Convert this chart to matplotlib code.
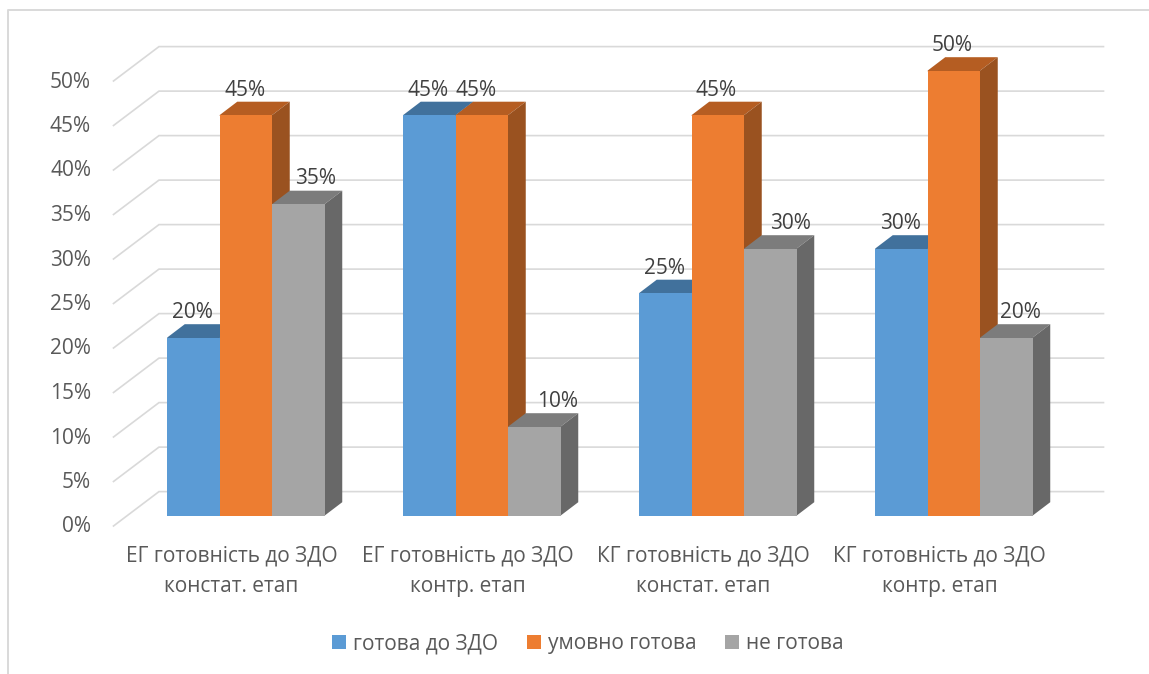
import matplotlib
matplotlib.use("Agg")
import matplotlib.pyplot as plt
from matplotlib.patches import Polygon

plt.rcParams['font.family'] = ['Open Sans', 'DejaVu Sans']

categories = ["ЕГ готовність до ЗДО\nконстат. етап", "ЕГ готовність до ЗДО\nконтр. етап",
              "КГ готовність до ЗДО\nконстат. етап", "КГ готовність до ЗДО\nконтр. етап"]
series_names = ["готова до ЗДО", "умовно готова", "не готова"]
ready = [20, 45, 25, 30]
conditional = [45, 45, 45, 50]
not_ready = [35, 10, 30, 20]
y_ticks = [0, 5, 10, 15, 20, 25, 30, 35, 40, 45, 50]

front_colors = ['#5B9BD5', '#ED7D31', '#A5A5A5']
top_colors = ['#41719C', '#B55D22', '#7C7C7C']
side_colors = ['#3A6A94', '#9A5220', '#686868']
GRID = '#D9D9D9'
W, H = 1149, 674
PX_X, PX_Y = 236.0, 8.9     # pixels per category / per percent
X0, Y0 = 246.0, 515.5       # pixel of first group centre and of 0 %
FS = 15

fig = plt.figure(figsize=(W / 100, H / 100), dpi=100, facecolor='white')
ax = fig.add_axes([0, 0, 1, 1])
ax.set_xlim(-X0 / PX_X, (W - X0) / PX_X)
ax.set_ylim((Y0 - H) / PX_Y, Y0 / PX_Y)
ax.axis('off')

dx = lambda px: px / PX_X
dy = lambda px: px / PX_Y

# outer frame
ax.plot([7.5 / W, 7.5 / W, 1], [0, 1 - 9.5 / H, 1 - 9.5 / H], transform=ax.transAxes,
        color='#D9D9D9', lw=1.4, solid_capstyle='butt', zorder=1)

# wall gridlines with the floor/side diagonal
xl_back, xr_back = dx(159 - X0), dx(1103.5 - X0)
xl_front = dx(113.5 - X0)
back_up, front_down = dy(23.9), dy(10.5)
for t in y_ticks:
    ax.plot([xl_front, xl_back, xr_back], [t - front_down, t + back_up, t + back_up],
            color=GRID, lw=1.2, zorder=1, solid_joinstyle='miter')
    ax.text(dx(91 - X0), t - front_down - dy(1), f"{t}%", ha='right', va='center',
            fontsize=FS, color='#595959')

# bars
bw = 52.5 / PX_X
bdx, bdy = dx(17.5), dy(13.3)
seam = dy(1)   # faces overlap under the front face so no light seam shows
series = [ready, conditional, not_ready]
label_nudge = [[-1, -1, -1, -1], [-1, -6, -2, -2], [17.5, 23, 20, 14]]
for s, vals in enumerate(series):
    z = 2 + s
    xs = [i + (s - 1) * bw for i in range(len(vals))]
    ax.bar(xs, vals, width=bw, color=front_colors[s], zorder=z + 0.5, label=series_names[s], linewidth=0)
    for x, v, n in zip(xs, vals, label_nudge[s]):
        l, r = x - bw / 2, x + bw / 2
        ax.add_patch(Polygon([(l, v - seam), (r, v - seam), (r, v), (r + bdx, v + bdy), (l + bdx, v + bdy), (l, v)],
                             closed=True, fc=top_colors[s], ec='none', zorder=z))
        ax.add_patch(Polygon([(r - dx(1), 0), (r, 0), (r + bdx, bdy), (r + bdx, v + bdy), (r, v), (r - dx(1), v)],
                             closed=True, fc=side_colors[s], ec='none', zorder=z))
        ax.text(x + dx(n), v + dy(25), f"{v}%", ha='center', va='center',
                fontsize=FS, color='#404040', zorder=10)

# category labels
for i, c in enumerate(categories):
    l1, l2 = c.split("\n")
    ax.text(i + dx(-14.5), dy(-41), l1, ha='center', va='center', fontsize=FS, color='#595959')
    ax.text(i + dx(-14.5), dy(-71), l2, ha='center', va='center', fontsize=FS, color='#595959')

ax.legend(loc='center', bbox_to_anchor=(588 / W, 1 - 643.5 / H), bbox_transform=ax.transAxes, ncol=3,
          frameon=False, fontsize=FS, labelcolor='#595959', handlelength=0.68, handleheight=0.68,
          handletextpad=0.33, columnspacing=1.38, borderpad=0, borderaxespad=0)

fig.savefig("out.png", dpi=100, facecolor='white')
